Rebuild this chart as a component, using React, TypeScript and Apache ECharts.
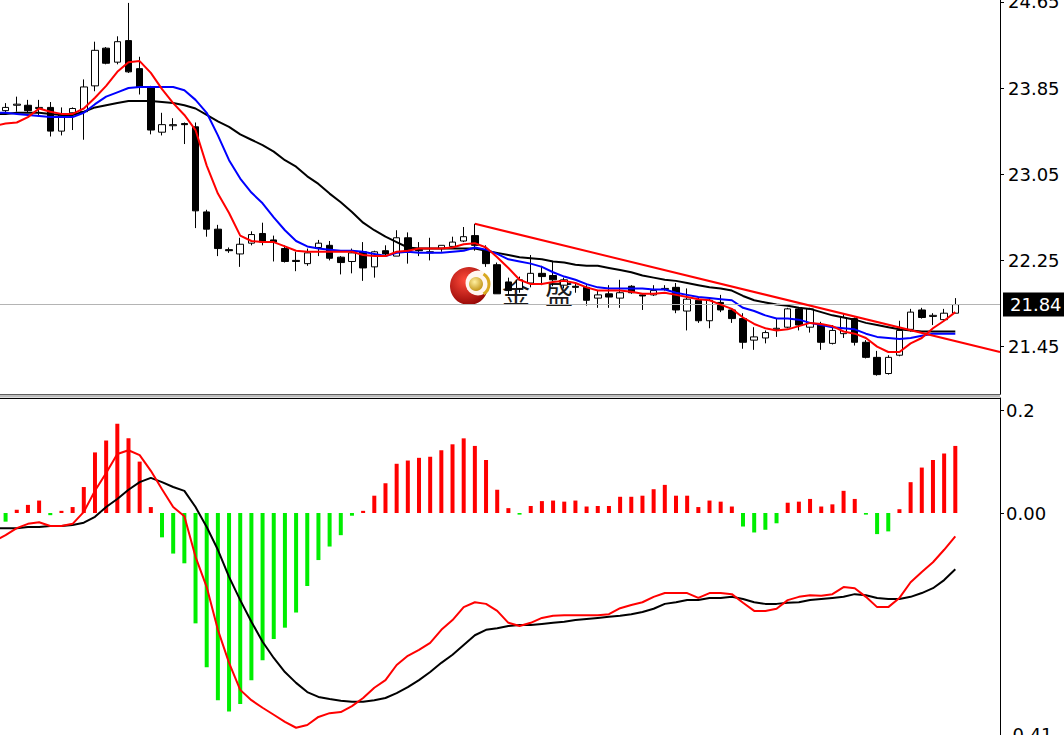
import React, { useEffect, useRef } from 'react';
import * as echarts from 'echarts';

const FONT = '"DejaVu Sans", Verdana, sans-serif';

// candles: [open, close, low, high], index 0..85
const candles: number[][] = [
  [23.64, 23.67, 23.60, 23.71], [23.69, 23.70, 23.63, 23.77], [23.69, 23.64, 23.62, 23.74], [23.66, 23.67, 23.60, 23.74],
  [23.67, 23.45, 23.40, 23.72], [23.45, 23.60, 23.41, 23.67], [23.62, 23.66, 23.46, 23.67], [23.63, 23.86, 23.37, 23.93],
  [23.87, 24.20, 23.82, 24.28], [24.22, 24.08, 24.07, 24.23], [24.09, 24.28, 24.07, 24.33], [24.29, 24.00, 23.99, 24.64],
  [24.03, 23.86, 23.79, 24.14], [23.85, 23.46, 23.42, 23.87], [23.44, 23.51, 23.41, 23.62], [23.50, 23.51, 23.46, 23.57],
  [23.52, 23.51, 23.33, 23.53], [23.49, 22.71, 22.55, 23.53], [22.70, 22.54, 22.47, 22.72], [22.54, 22.36, 22.29, 22.58],
  [22.35, 22.34, 22.32, 22.37], [22.31, 22.40, 22.19, 22.46], [22.41, 22.49, 22.39, 22.52], [22.50, 22.42, 22.39, 22.60],
  [22.44, 22.42, 22.24, 22.48], [22.36, 22.24, 22.23, 22.39], [22.25, 22.24, 22.15, 22.33], [22.22, 22.32, 22.20, 22.36],
  [22.37, 22.41, 22.29, 22.44], [22.39, 22.27, 22.25, 22.43], [22.28, 22.23, 22.12, 22.29], [22.24, 22.32, 22.13, 22.36],
  [22.33, 22.18, 22.06, 22.42], [22.19, 22.33, 22.09, 22.34], [22.34, 22.31, 22.30, 22.39], [22.29, 22.46, 22.29, 22.53],
  [22.46, 22.34, 22.22, 22.51], [22.35, 22.34, 22.29, 22.42], [22.33, 22.32, 22.25, 22.46], [22.36, 22.39, 22.33, 22.39],
  [22.38, 22.42, 22.38, 22.47], [22.43, 22.47, 22.42, 22.56], [22.48, 22.39, 22.34, 22.59], [22.34, 22.22, 22.19, 22.39],
  [22.21, 21.94, 21.94, 22.23], [22.05, 21.97, 21.93, 22.09], [21.99, 22.07, 21.95, 22.10], [22.04, 22.13, 22.00, 22.30],
  [22.13, 22.10, 22.02, 22.20], [22.11, 22.07, 22.01, 22.24], [22.02, 22.07, 21.99, 22.09], [22.01, 22.00, 21.95, 22.04],
  [22.00, 21.88, 21.83, 22.02], [21.90, 21.93, 21.81, 21.97], [21.94, 21.91, 21.81, 22.02], [21.90, 21.95, 21.81, 22.07],
  [22.01, 21.95, 21.94, 22.02], [21.93, 21.92, 21.79, 21.94], [21.93, 21.97, 21.92, 22.02], [21.98, 21.99, 21.97, 22.02],
  [22.00, 21.79, 21.76, 22.04], [21.78, 21.89, 21.60, 21.99], [21.88, 21.69, 21.67, 21.91], [21.69, 21.88, 21.62, 21.91],
  [21.86, 21.79, 21.77, 21.93], [21.79, 21.71, 21.67, 21.80], [21.71, 21.49, 21.43, 21.76], [21.51, 21.54, 21.42, 21.63],
  [21.53, 21.58, 21.48, 21.60], [21.61, 21.62, 21.54, 21.71], [21.63, 21.80, 21.62, 21.81], [21.80, 21.65, 21.60, 21.81],
  [21.63, 21.80, 21.58, 21.81], [21.65, 21.49, 21.42, 21.68], [21.48, 21.60, 21.47, 21.65], [21.57, 21.72, 21.53, 21.76],
  [21.71, 21.49, 21.46, 21.72], [21.49, 21.35, 21.34, 21.51], [21.35, 21.19, 21.18, 21.41], [21.20, 21.35, 21.19, 21.37],
  [21.37, 21.60, 21.36, 21.69], [21.61, 21.77, 21.59, 21.80], [21.79, 21.72, 21.71, 21.81], [21.73, 21.74, 21.65, 21.76],
  [21.70, 21.76, 21.69, 21.80], [21.76, 21.84, 21.76, 21.90],
];

// moving averages, index -1..85
const LINE_START = -1;
const maFast = [
  23.50, 23.52, 23.53, 23.58, 23.66, 23.63, 23.61, 23.61, 23.66, 23.76, 23.87, 24.00, 24.09, 24.10, 23.99, 23.84, 23.71, 23.60,
  23.46, 23.13, 22.87, 22.69, 22.48, 22.43, 22.42, 22.42, 22.38, 22.34, 22.33, 22.33, 22.33, 22.33, 22.33, 22.30, 22.29, 22.29,
  22.33, 22.34, 22.36, 22.36, 22.36, 22.37, 22.40, 22.41, 22.37, 22.28, 22.18, 22.07, 22.03, 22.03, 22.05, 22.06, 22.04, 22.00,
  21.97, 21.97, 21.97, 21.96, 21.94, 21.94, 21.95, 21.93, 21.91, 21.89, 21.88, 21.84, 21.80, 21.72, 21.66, 21.62, 21.60, 21.61,
  21.64, 21.67, 21.66, 21.64, 21.59, 21.57, 21.53, 21.45, 21.40, 21.40, 21.48, 21.53, 21.62, 21.69, 21.77,
];
const maMid = [
  23.62, 23.62, 23.61, 23.60, 23.59, 23.58, 23.58, 23.58, 23.62, 23.70, 23.77, 23.81, 23.85, 23.86, 23.86, 23.86, 23.86, 23.83,
  23.74, 23.62, 23.41, 23.18, 23.01, 22.88, 22.78, 22.65, 22.53, 22.43, 22.38, 22.36, 22.35, 22.34, 22.34, 22.33, 22.31, 22.29,
  22.32, 22.33, 22.32, 22.32, 22.32, 22.33, 22.34, 22.37, 22.35, 22.31, 22.26, 22.24, 22.22, 22.19, 22.14, 22.10, 22.07, 22.03,
  22.00, 21.99, 21.99, 21.99, 21.99, 21.98, 21.98, 21.95, 21.93, 21.91, 21.90, 21.89, 21.88, 21.81, 21.78, 21.74, 21.71, 21.71,
  21.70, 21.67, 21.65, 21.63, 21.62, 21.61, 21.57, 21.54, 21.53, 21.52, 21.53, 21.55, 21.57, 21.57, 21.57,
];
const maSlow = [
  23.61, 23.61, 23.62, 23.62, 23.62, 23.61, 23.60, 23.60, 23.63, 23.67, 23.69, 23.71, 23.73, 23.73, 23.73, 23.72, 23.71, 23.69,
  23.66, 23.60, 23.54, 23.49, 23.42, 23.37, 23.32, 23.26, 23.18, 23.12, 23.03, 22.96, 22.87, 22.79, 22.70, 22.60, 22.53, 22.47,
  22.42, 22.37, 22.36, 22.36, 22.36, 22.36, 22.36, 22.36, 22.34, 22.32, 22.30, 22.28, 22.27, 22.26, 22.24, 22.23, 22.21, 22.20,
  22.20, 22.18, 22.16, 22.14, 22.11, 22.09, 22.07, 22.06, 22.04, 22.02, 22.00, 21.99, 21.97, 21.92, 21.88, 21.86, 21.84, 21.83,
  21.81, 21.80, 21.77, 21.74, 21.72, 21.70, 21.67, 21.65, 21.63, 21.61, 21.60, 21.59, 21.59, 21.59, 21.59,
];

// trend line (bar index, price)
const trendX = [42, 89];
const trendY = [22.59, 21.40];

// MACD, index -1..85
const macdLine = [
  -0.052, -0.041, -0.028, -0.020, -0.017, -0.024, -0.024, -0.020, 0.002, 0.041, 0.074, 0.109, 0.116, 0.107, 0.078, 0.044, 0.011,
  -0.006, -0.081, -0.137, -0.216, -0.277, -0.327, -0.346, -0.360, -0.373, -0.386, -0.397, -0.392, -0.377, -0.370, -0.368, -0.357,
  -0.342, -0.323, -0.309, -0.281, -0.264, -0.253, -0.240, -0.216, -0.198, -0.174, -0.165, -0.168, -0.181, -0.203, -0.209, -0.203,
  -0.194, -0.190, -0.189, -0.189, -0.189, -0.189, -0.187, -0.176, -0.170, -0.165, -0.155, -0.148, -0.148, -0.148, -0.157, -0.148,
  -0.148, -0.150, -0.166, -0.181, -0.181, -0.177, -0.161, -0.155, -0.152, -0.153, -0.150, -0.137, -0.139, -0.155, -0.174, -0.174,
  -0.157, -0.128, -0.109, -0.091, -0.068, -0.043,
];
const signalLine = [
  -0.028, -0.028, -0.028, -0.026, -0.026, -0.024, -0.024, -0.022, -0.018, -0.007, 0.011, 0.026, 0.043, 0.057, 0.065, 0.057, 0.048,
  0.041, 0.011, -0.026, -0.068, -0.118, -0.161, -0.201, -0.238, -0.268, -0.294, -0.314, -0.331, -0.340, -0.344, -0.347, -0.349,
  -0.349, -0.346, -0.342, -0.333, -0.322, -0.309, -0.294, -0.277, -0.262, -0.244, -0.226, -0.216, -0.213, -0.209, -0.207, -0.207,
  -0.205, -0.203, -0.201, -0.198, -0.196, -0.194, -0.192, -0.190, -0.187, -0.183, -0.177, -0.168, -0.165, -0.161, -0.161, -0.157,
  -0.157, -0.155, -0.159, -0.165, -0.168, -0.168, -0.166, -0.165, -0.161, -0.159, -0.157, -0.155, -0.150, -0.152, -0.157, -0.159,
  -0.159, -0.155, -0.148, -0.139, -0.124, -0.104,
];
// histogram, index 0..85
const histogram = [
  -0.016, 0.006, 0.015, 0.023, -0.004, 0.004, 0.011, 0.048, 0.112, 0.134, 0.165, 0.138, 0.095, 0.011, -0.045, -0.075, -0.093,
  -0.204, -0.285, -0.346, -0.367, -0.353, -0.309, -0.272, -0.233, -0.212, -0.184, -0.135, -0.087, -0.062, -0.041, -0.005, 0.004,
  0.032, 0.055, 0.091, 0.097, 0.102, 0.104, 0.116, 0.127, 0.138, 0.124, 0.098, 0.043, 0.009, -0.003, 0.013, 0.022, 0.023, 0.021,
  0.023, 0.012, 0.013, 0.013, 0.030, 0.030, 0.032, 0.044, 0.052, 0.032, 0.032, 0.011, 0.023, 0.021, 0.012, -0.025, -0.036, -0.031,
  -0.019, 0.019, 0.021, 0.026, 0.012, 0.016, 0.041, 0.026, -0.003, -0.039, -0.034, 0.007, 0.057, 0.084, 0.098, 0.110, 0.124,
];

const priceTicks = [21.45, 22.25, 23.05, 23.85, 24.65];
const macdTicks = [0.19, 0, -0.41];
const PRICE_MIN = 21.01;
const PRICE_MAX = 24.667;
const MACD_MIN = -0.4104;
const MACD_MAX = 0.2126;
const X_MIN = -0.5;
const X_MAX = 89;

const lastPrice = candles[candles.length - 1][1];

const toLine = (arr: number[]) => arr.map((v, k) => [k + LINE_START, v]);

function buildOption(): any {
  const axisLineStyle = { color: '#000', width: 1 };
  const lineSeries = (name: string, data: number[][], color: string, xi: number, z: number) => ({
    name,
    type: 'line',
    xAxisIndex: xi,
    yAxisIndex: xi,
    data,
    symbol: 'none',
    smooth: false,
    z,
    lineStyle: { color, width: 2 },
    itemStyle: { color },
  });
  return {
    animation: false,
    backgroundColor: '#fff',
    grid: [
      { left: 0, top: 0, width: 1000, height: 394, containLabel: false, outerBoundsMode: 'none' },
      { left: 0, top: 398, width: 1000, height: 337, containLabel: false, outerBoundsMode: 'none' },
    ],
    xAxis: [
      {
        type: 'value', gridIndex: 0, min: X_MIN, max: X_MAX, position: 'bottom',
        axisLine: { show: true, onZero: false, lineStyle: axisLineStyle },
        axisTick: { show: false }, axisLabel: { show: false }, splitLine: { show: false },
      },
      {
        type: 'value', gridIndex: 1, min: X_MIN, max: X_MAX, position: 'top',
        axisLine: { show: true, onZero: false, lineStyle: axisLineStyle },
        axisTick: { show: false }, axisLabel: { show: false }, splitLine: { show: false },
      },
    ],
    yAxis: [
      {
        type: 'value', gridIndex: 0, position: 'right', min: PRICE_MIN, max: PRICE_MAX,
        axisLine: { show: true, onZero: false, lineStyle: axisLineStyle },
        axisTick: { show: true, length: 4, customValues: priceTicks, lineStyle: axisLineStyle },
        axisLabel: {
          customValues: priceTicks, formatter: (v: number) => v.toFixed(2),
          color: '#000', fontSize: 18, fontFamily: FONT, margin: 8,
        },
        splitLine: { show: false },
      },
      {
        type: 'value', gridIndex: 1, position: 'right', min: MACD_MIN, max: MACD_MAX,
        axisLine: { show: true, onZero: false, lineStyle: axisLineStyle },
        axisTick: { show: true, length: 4, customValues: macdTicks, lineStyle: axisLineStyle },
        axisLabel: {
          customValues: macdTicks,
          formatter: (v: number) => (v > 0.1 ? v.toFixed(1) : v.toFixed(2)),
          color: '#000', fontSize: 18, fontFamily: FONT, margin: 6,
        },
        splitLine: { show: false },
      },
    ],
    series: [
      {
        name: 'Price',
        type: 'candlestick',
        xAxisIndex: 0,
        yAxisIndex: 0,
        barWidth: 7,
        z: 2,
        data: candles.map((c, i) => [i, c[0], c[1], c[2], c[3]]),
        itemStyle: { color: '#fff', color0: '#000', borderColor: '#000', borderColor0: '#000', borderWidth: 1 },
        markLine: {
          silent: true,
          symbol: ['none', 'none'],
          animation: false,
          data: [{ yAxis: lastPrice }],
          lineStyle: { color: '#b4b4b4', width: 1, type: 'solid' },
          label: {
            show: true,
            position: 'end',
            distance: 3,
            formatter: lastPrice.toFixed(2),
            backgroundColor: '#000',
            color: '#fff',
            fontSize: 18,
            fontFamily: FONT,
            padding: [3, 6, 3, 7],
          },
        },
      },
      lineSeries('MA slow', toLine(maSlow), '#000000', 0, 3),
      lineSeries('MA mid', toLine(maMid), '#0000ff', 0, 4),
      lineSeries('MA fast', toLine(maFast), '#ff0000', 0, 5),
      lineSeries('Trend', trendX.map((x, k) => [x, trendY[k]]), '#ff0000', 0, 5),
      {
        name: 'Histogram',
        type: 'bar',
        xAxisIndex: 1,
        yAxisIndex: 1,
        barWidth: 4,
        data: histogram.map((v, i) => [i, v]),
        itemStyle: { color: (p: any) => (p.value[1] >= 0 ? '#ff0000' : '#00ee00') },
      },
      lineSeries('Signal', toLine(signalLine), '#000000', 1, 3),
      lineSeries('MACD', toLine(macdLine), '#ff0000', 1, 4),
    ],
    graphic: [
      {
        type: 'rect', z: 50, silent: true,
        shape: { x: 0, y: 394.5, width: 1000, height: 3 },
        style: { fill: '#bdbdbd' },
      },
      {
        type: 'group', z: 100, silent: true,
        children: [
          {
            type: 'circle', shape: { cx: 469, cy: 286, r: 19 },
            style: {
              fill: new echarts.graphic.RadialGradient(0.4, 0.35, 0.75, [
                { offset: 0, color: '#ff4a3a' }, { offset: 1, color: '#8a0000' },
              ]),
            },
          },
          { type: 'circle', shape: { cx: 478, cy: 283, r: 12.5 }, style: { fill: '#fff6f0' } },
          {
            type: 'circle', shape: { cx: 476, cy: 284, r: 7 },
            style: {
              fill: new echarts.graphic.RadialGradient(0.4, 0.35, 0.7, [
                { offset: 0, color: '#fff0a0' }, { offset: 1, color: '#c09010' },
              ]),
            },
          },
          {
            type: 'arc', shape: { cx: 477, cy: 284, r: 12, startAngle: -1.0, endAngle: 1.0 },
            style: { stroke: '#d8a820', lineWidth: 3, fill: 'none' },
          },
          {
            type: 'text', x: 502, y: 292,
            style: { text: '金', fill: '#1a1a1a', fontSize: 28, fontFamily: '"Noto Sans CJK SC"', verticalAlign: 'middle' },
          },
          {
            type: 'text', x: 545, y: 292,
            style: { text: '盛', fill: '#1a1a1a', fontSize: 28, fontFamily: '"Noto Sans CJK SC"', verticalAlign: 'middle' },
          },
        ],
      },
    ],
  };
}

export default function App() {
  const ref = useRef<HTMLDivElement>(null);
  useEffect(() => {
    if (!ref.current) return;
    const chart = echarts.init(ref.current, null, { renderer: 'svg' });
    chart.setOption(buildOption());
    return () => chart.dispose();
  }, []);
  return (
    <div
      ref={ref}
      style={{ position: 'fixed', left: 0, top: 0, width: 1064, height: 735, background: '#fff' }}
    />
  );
}
